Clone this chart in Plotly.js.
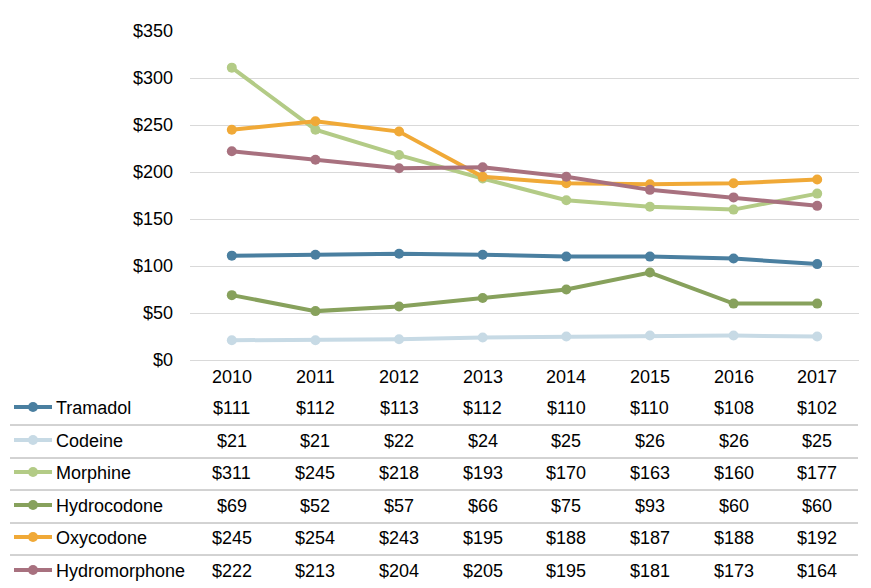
<!DOCTYPE html>
<html>
<head>
<meta charset="utf-8">
<script src="https://cdn.plot.ly/plotly-3.0.1.min.js"></script>
<style>html,body{margin:0;padding:0;background:#fff;}#chart{width:871px;height:588px;}</style>
</head>
<body>
<div id="chart"></div>
<script>
const years = ['2010','2011','2012','2013','2014','2015','2016','2017'];
const seriesNames = ['Tramadol','Codeine','Morphine','Hydrocodone','Oxycodone','Hydromorphone'];
const tramadol = [111,112,113,112,110,110,108,102];
const codeine = [21,21,22,24,25,26,26,25];
const morphine = [311,245,218,193,170,163,160,177];
const hydrocodone = [69,52,57,66,75,93,60,60];
const oxycodone = [245,254,243,195,188,187,188,192];
const hydromorphone = [222,213,204,205,195,181,173,164];
const seriesColors = ['#4a7fa0','#c7dae5','#b3cb86','#87a15c','#f0a937','#a8717f'];
const yTicks = [0,50,100,150,200,250,300,350];

const allSeries = [tramadol,codeine,morphine,hydrocodone,oxycodone,hydromorphone];
const W = 871, H = 588;
const L = 190, R = 859, T = 31, B = 360;
const px = x => (x - L) / (R - L);
const py = y => (B - y) / (B - T);
const colX = j => (j + 0.5) / years.length;

const traces = allSeries.map((vals, i) => ({
  type: 'scatter', mode: 'lines+markers', name: seriesNames[i],
  x: years, y: vals,
  line: {color: seriesColors[i], width: 4},
  marker: {color: seriesColors[i], size: 10},
  showlegend: false, hoverinfo: 'skip'
}));

const font = {family: 'Liberation Sans, Arial, sans-serif', size: 18, color: '#000'};
const annotations = [];
const shapes = [];
const rowY = [408, 441, 473, 506, 538, 571];
years.forEach((yr, j) => annotations.push({
  x: colX(j), xref: 'paper', y: py(377), yref: 'paper', text: yr, showarrow: false,
  xanchor: 'center', yanchor: 'middle', font
}));
allSeries.forEach((vals, i) => {
  annotations.push({
    x: px(54), xref: 'paper', y: py(rowY[i]), yref: 'paper', text: seriesNames[i],
    showarrow: false, xanchor: 'left', yanchor: 'middle', font
  });
  vals.forEach((v, j) => annotations.push({
    x: colX(j), xref: 'paper', y: py(rowY[i]), yref: 'paper', text: '$' + v,
    showarrow: false, xanchor: 'center', yanchor: 'middle', font
  }));
  shapes.push({type: 'line', xref: 'paper', yref: 'paper', x0: px(14), x1: px(52),
    y0: py(rowY[i] - 1), y1: py(rowY[i] - 1), line: {color: seriesColors[i], width: 4}});
  shapes.push({type: 'circle', xref: 'paper', yref: 'paper', xsizemode: 'pixel', ysizemode: 'pixel',
    xanchor: px(33), yanchor: py(rowY[i] - 1), x0: -5, x1: 5, y0: -5, y1: 5,
    fillcolor: seriesColors[i], line: {width: 0}});
});
[425, 458, 490, 523, 555].forEach(y => shapes.push({
  type: 'line', xref: 'paper', yref: 'paper', x0: px(10), x1: px(858), y0: py(y), y1: py(y),
  line: {color: '#a6a6a6', width: 1}
}));

const layout = {
  width: W, height: H,
  margin: {l: L, r: W - R, t: T, b: H - B},
  paper_bgcolor: '#fff', plot_bgcolor: '#fff',
  xaxis: {type: 'category', showticklabels: false, showgrid: false, zeroline: false,
    showline: false, ticks: '', range: [-0.5, 7.5], fixedrange: true},
  yaxis: {range: [0, 350], tickvals: yTicks, ticktext: yTicks.map(v => '$' + v),
    showgrid: true, gridcolor: '#d9d9d9', gridwidth: 1, zeroline: true, zerolinecolor: '#d9d9d9',
    zerolinewidth: 1, showline: false, ticks: '', ticklen: 0, tickfont: font, ticklabelstandoff: 16,
    fixedrange: true},
  annotations, shapes
};
Plotly.newPlot('chart', traces, layout, {staticPlot: true, displayModeBar: false});
</script>
</body>
</html>
